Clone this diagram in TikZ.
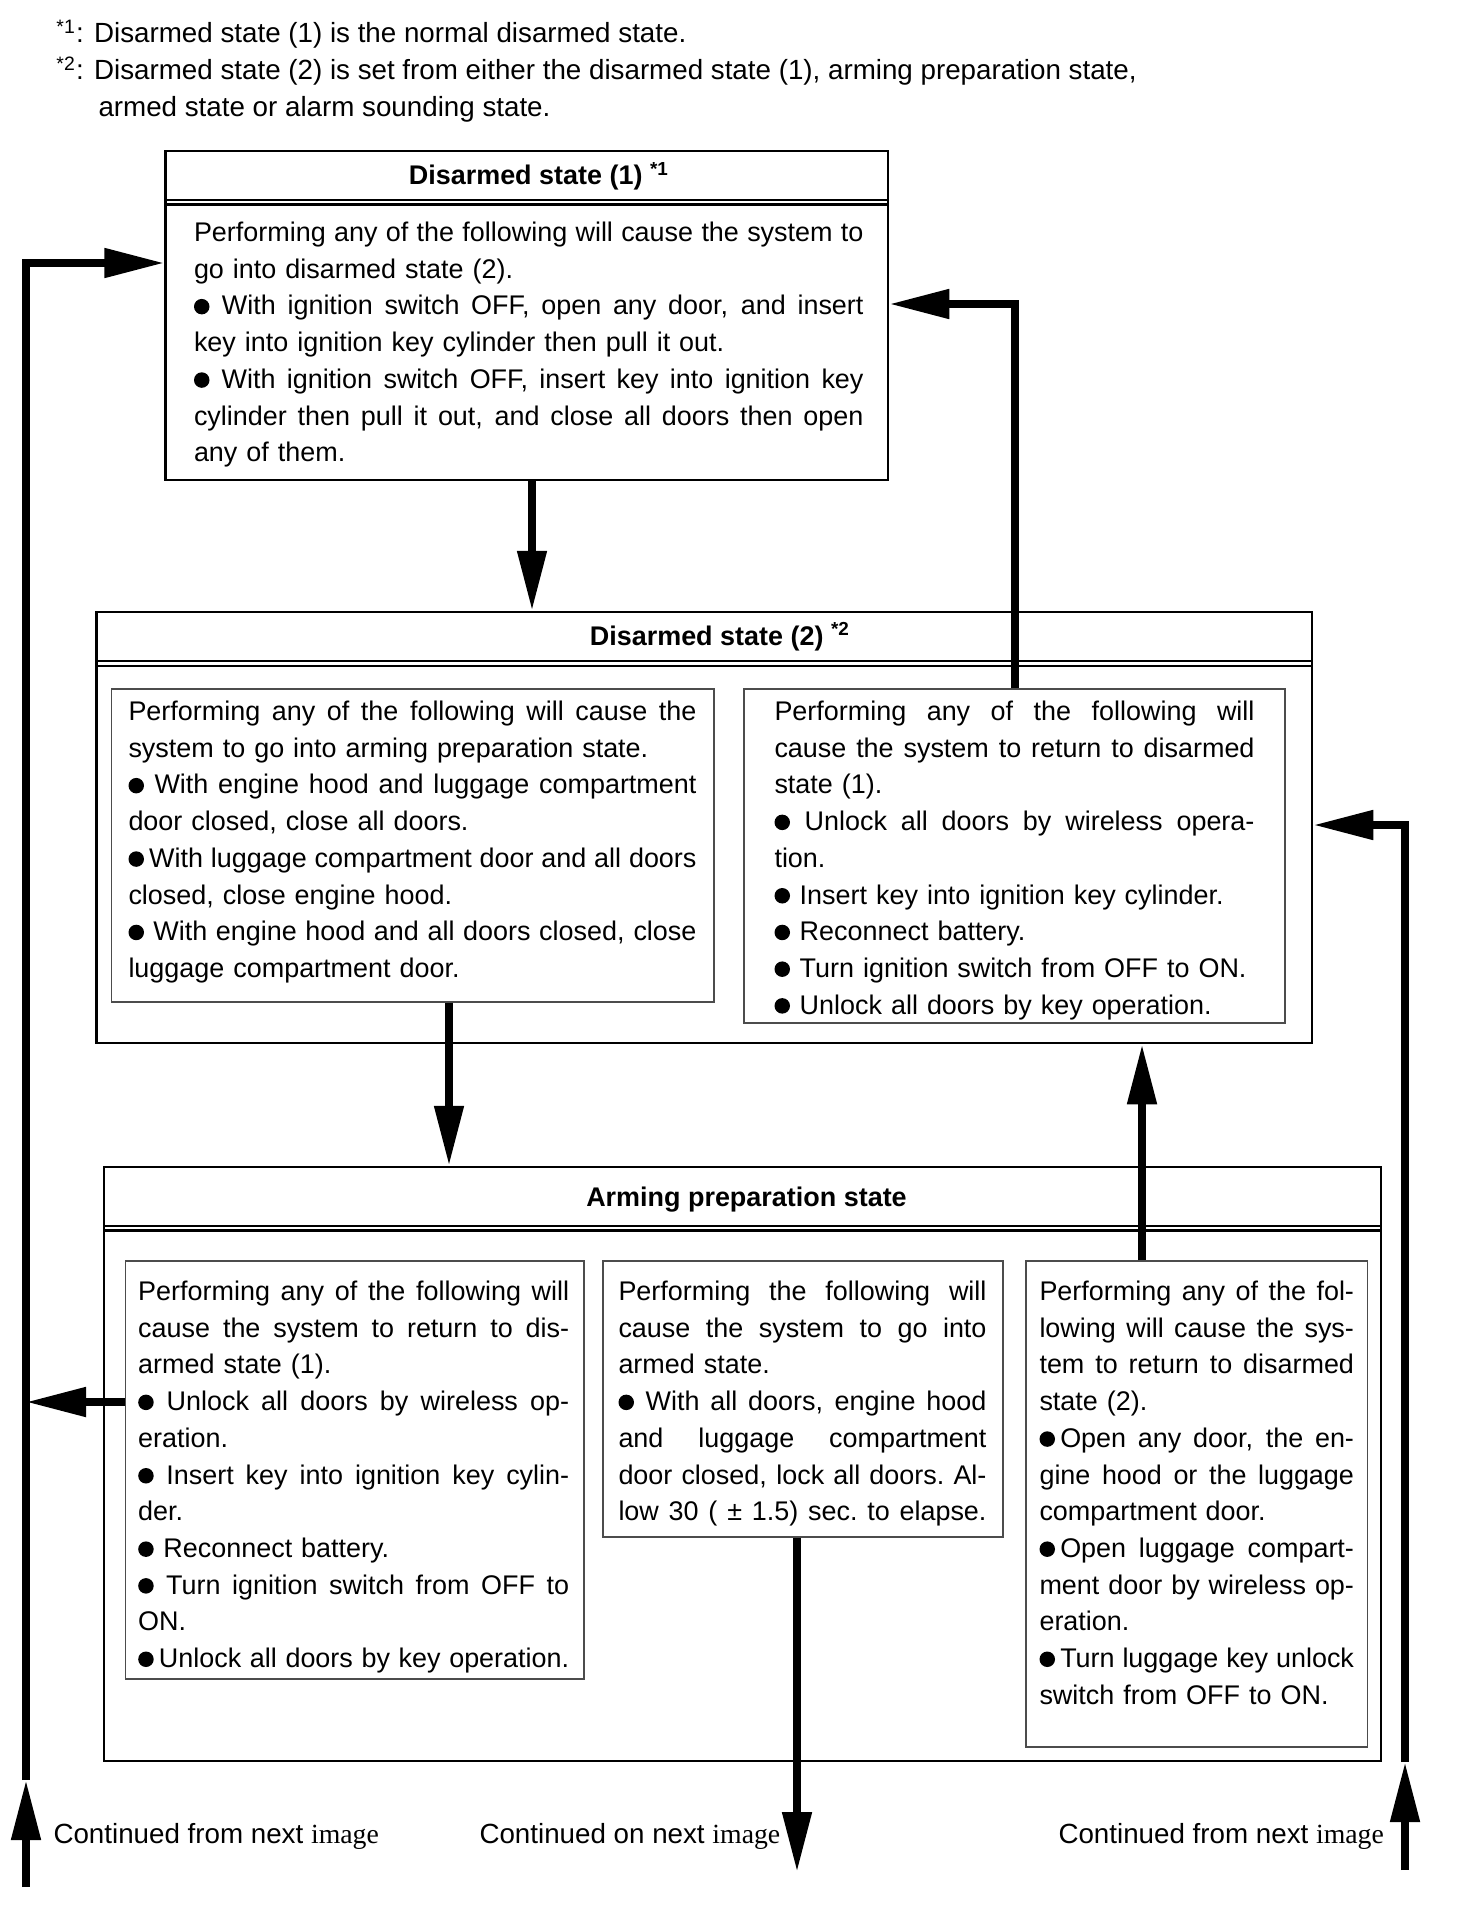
\documentclass[tikz,border=0pt]{standalone}
\usepackage{fontspec}
\setmainfont{Liberation Sans}
\newfontfamily\serifimg{Liberation Serif}
\usetikzlibrary{arrows.meta,fit}
\newdimen\jw
\newcommand\J[1]{\leavevmode\hbox to\jw{\spaceskip=0.278em plus 2em minus 0.07em\xspaceskip=\spaceskip\relax #1}}
\newcommand\bodyf{\fontsize{10.78pt}{14.68pt}\selectfont\parindent=0pt}
\newcommand\notef{\fontsize{11.1pt}{14.68pt}\selectfont}
\newcommand\fl{\rule{0pt}{8.5pt}}
\newcommand\bul{\begin{tikzpicture}[x=1pt,y=1pt,baseline=0pt]\fill (3pt,3.3pt) circle [radius=3.1pt];\path (0pt,0pt) (6.4pt,0pt);\end{tikzpicture}}
\begin{document}
\begin{tikzpicture}[x=0.4pt,y=-0.4pt,
  box/.style={draw,line width=1pt,inner sep=0pt},
  inbox/.style={draw=black!70,line width=0.45pt,inner sep=0pt},
  txt/.style={anchor=north west,inner sep=0pt,align=left,font=\bodyf,text width=#1},
  ttl/.style={anchor=base,inner sep=0pt,font=\bodyf\bfseries},
  note/.style={anchor=base west,inner sep=0pt,font=\notef},
  arr/.style={line width=3.2pt,-{Triangle[length=24pt,width=11.2pt]},line join=miter},
  dbl/.style={line width=0.9pt}]
\useasboundingbox (0,0) rectangle (1456,1932);

% footnotes
\node[note] (fn1) at (56,43) {\textsuperscript{*1}: Disarmed state (1) is the normal disarmed state.};
\node[note] (fn2) at (56,80) {\textsuperscript{*2}: Disarmed state (2) is set from either the disarmed state (1), arming preparation state,};
\node[note] (fn3) at (98,116) {armed state or alarm sounding state.};

% boxes
\node[box,fit={(165.6,151) (888,480)}] (b1) {};
\node[box,fit={(96.7,612) (1312,1043)}] (b2) {};
\node[inbox,fit={(111.6,689) (714,1002)}] (b2L) {};
\node[inbox,fit={(744,689) (1285,1023)}] (b2R) {};
\node[box,fit={(104,1167) (1381,1761)}] (b3) {};
\node[inbox,fit={(125.6,1261) (584,1679)}] (b3L) {};
\node[inbox,fit={(603,1261) (1003,1537)}] (b3M) {};
\node[inbox,fit={(1026,1261) (1367.4,1747)}] (b3R) {};

% title separators
\draw[dbl] (165.6,200) -- (888,200);
\draw[dbl] (165.6,204.5) -- (888,204.5);
\draw[dbl] (96.7,661) -- (1312,661);
\draw[dbl] (96.7,666) -- (1312,666);
\draw[dbl] (104,1226) -- (1381,1226);
\draw[dbl] (104,1230.5) -- (1381,1230.5);

% titles
\node[ttl] (h1) at (539,185) {Disarmed state (1) \textsuperscript{*1}};
\node[ttl] (h2) at (720,645) {Disarmed state (2) \textsuperscript{*2}};
\node[ttl] (h3) at (746.5,1206) {Arming preparation state};

% texts
\node[txt=267.8pt] (t1) at (193.5,219.75) {\jw=267.8pt\fl\J{Performing any of the following will cause the system to}\\
go into disarmed state (2).\\
\J{\bul\ With ignition switch OFF, open any door, and insert}\\
key into ignition key cylinder then pull it out.\\
\J{\bul\ With ignition switch OFF, insert key into ignition key}\\
\J{cylinder then pull it out, and close all doors then open}\\
any of them.};

\node[txt=227.2pt] (t2L) at (128,698.75) {\jw=227.2pt\fl\J{Performing any of the following will cause the}\\
system to go into arming preparation state.\\
\J{\bul\ With engine hood and luggage compartment}\\
door closed, close all doors.\\
\J{\bul\,With luggage compartment door and all doors}\\
closed, close engine hood.\\
\J{\bul\ With engine hood and all doors closed, close}\\
luggage compartment door.};

\node[txt=192pt] (t2R) at (774,698.75) {\jw=192pt\fl\J{Performing any of the following will}\\
\J{cause the system to return to disarmed}\\
state (1).\\
\J{\bul\ Unlock all doors by wireless opera-}\\
tion.\\
\bul\ Insert key into ignition key cylinder.\\
\bul\ Reconnect battery.\\
\bul\ Turn ignition switch from OFF to ON.\\
\bul\ Unlock all doors by key operation.};

\node[txt=172.4pt] (t3L) at (137.7,1278.75) {\jw=172.4pt\fl\J{Performing any of the following will}\\
\J{cause the system to return to dis-}\\
armed state (1).\\
\J{\bul\ Unlock all doors by wireless op-}\\
eration.\\
\J{\bul\ Insert key into ignition key cylin-}\\
der.\\
\bul\ Reconnect battery.\\
\J{\bul\ Turn ignition switch from OFF to}\\
ON.\\
\J{\bul\,Unlock all doors by key operation.}};

\node[txt=147.2pt] (t3M) at (618,1278.75) {\jw=147.2pt\fl\J{Performing the following will}\\
\J{cause the system to go into}\\
armed state.\\
\J{\bul\ With all doors, engine hood}\\
\J{and luggage compartment}\\
\J{door closed, lock all doors. Al-}\\
\J{low 30 ( ± 1.5) sec. to elapse.}};

\node[txt=125.8pt] (t3R) at (1039,1278.75) {\jw=125.8pt\fl\J{Performing any of the fol-}\\
\J{lowing will cause the sys-}\\
\J{tem to return to disarmed}\\
state (2).\\
\J{\bul\,Open any door, the en-}\\
\J{gine hood or the luggage}\\
compartment door.\\
\J{\bul\,Open luggage compart-}\\
\J{ment door by wireless op-}\\
eration.\\
\J{\bul\,Turn luggage key unlock}\\
switch from OFF to ON.};

% bottom labels
\node[note] (c1) at (53,1843) {Continued from next {\serifimg image}};
\node[note] (c2) at (479,1843) {Continued on next {\serifimg image}};
\node[note] (c3) at (1058,1843) {Continued from next {\serifimg image}};

% helper coordinates
\coordinate (xA) at (532,0);
\coordinate (yB) at (0,304);
\coordinate (xC) at (449,0);
\coordinate (xD) at (1142,0);
\coordinate (yE) at (0,1402);
\coordinate (lx) at (26,0);
\coordinate (yL) at (0,263);
\coordinate (ltip) at (26,1780);
\coordinate (lbot) at (26,1887);
\coordinate (rtip) at (1405,1762);
\coordinate (rbot) at (1405,1870);
\coordinate (yR) at (0,825);
\coordinate (xM) at (797,0);
\coordinate (mtip) at (797,1872);

% connectors
\draw[arr] (b1.south -| xA) -- (b2.north -| xA);
\draw[arr] (b2R.north) -- (b2R.north |- yB) -- (b1.east |- yB);
\draw[arr] (b2L.south -| xC) -- (b3.north -| xC);
\draw[arr] (b3R.north -| xD) -- (b2.south -| xD);
\draw[arr] (b3L.west |- yE) -- (lx |- yE);
\draw[arr] (lbot) -- (ltip);
\draw[arr] (ltip) -- (ltip |- yL) -- (b1.west |- yL);
\draw[arr] (rbot) -- (rtip);
\draw[arr] (rtip) -- (rtip |- yR) -- (b2.east |- yR);
\draw[arr] (b3M.south -| xM) -- (mtip);
\end{tikzpicture}
\end{document}
